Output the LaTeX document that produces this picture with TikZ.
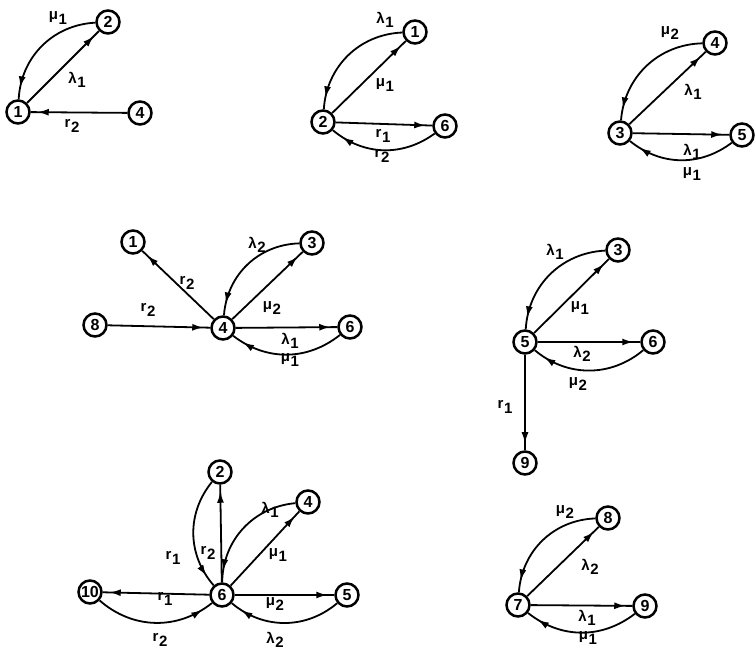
\documentclass[tikz,border=0pt]{standalone}
\usepackage{fontspec}
\setmainfont{Liberation Sans}
\usetikzlibrary{arrows.meta,decorations.markings}
\newcommand\lab[2]{#1\kern0.6pt\raisebox{-0.55ex}{#2}}
\tikzset{
  st/.style={circle,draw,line width=2.5pt,minimum size=23pt,inner sep=0pt,font=\fontsize{16}{16}\selectfont\bfseries},
  lb/.style={inner sep=0pt,font=\fontsize{15}{15}\selectfont\bfseries},
  arr/.style={postaction={decorate},decoration={markings,mark=at position #1 with {\arrow{Latex[length=11pt,width=7pt]}}}},
  ed/.style={line width=1.8pt,arr=-7pt},
  cv/.style={line width=1.8pt,arr=-12pt},
}
\begin{document}
\begin{tikzpicture}[x=1pt,y=1pt]
\fill[white] (0,0) rectangle (756,-652);
\useasboundingbox (0,0) rectangle (756,-652);
% Graph 1
\node[st] (a1) at (18,-112) {1};
\node[st] (a2) at (108,-22) {2};
\node[st] (a4) at (140,-113) {4};
\node[lb] (la1) at (58,-18) {\lab{μ}{1}};
\node[lb] (la2) at (77,-80) {\lab{λ}{1}};
\node[lb] (la3) at (72,-126) {\lab{r}{2}};
\draw[ed] (a1) -- (a2);
\draw[cv] (a2) to[bend right=42] (a1);
\draw[ed] (a4) -- (a1);
% Graph 2
\node[st] (b1) at (415,-32) {1};
\node[st] (b2) at (323,-122) {2};
\node[st] (b6) at (445,-126) {6};
\node[lb] (lb1) at (385,-20) {\lab{λ}{1}};
\node[lb] (lb2) at (385,-85) {\lab{μ}{1}};
\node[lb] (lb3) at (383,-136) {\lab{r}{1}};
\node[lb] (lb4) at (382,-156) {\lab{r}{2}};
\draw[cv] (b1) to[bend right=42] (b2);
\draw[ed] (b2) -- (b1);
\draw[ed] (b2) -- (b6);
\draw[cv] (b6) to[bend left=38] (b2);
% Graph 3
\node[st] (c4) at (715,-43) {4};
\node[st] (c3) at (620,-133) {3};
\node[st] (c5) at (742,-135) {5};
\node[lb] (lc1) at (670,-33) {\lab{μ}{2}};
\node[lb] (lc2) at (693,-92) {\lab{λ}{1}};
\node[lb] (lc3) at (692,-152) {\lab{λ}{1}};
\node[lb] (lc4) at (692,-174) {\lab{μ}{1}};
\draw[cv] (c4) to[bend right=42] (c3);
\draw[ed] (c3) -- (c4);
\draw[ed] (c3) -- (c5);
\draw[cv] (c5) to[bend left=38] (c3);
% Graph 4
\node[st] (d1) at (133,-242) {1};
\node[st] (d3) at (312,-243) {3};
\node[st] (d8) at (95,-325) {8};
\node[st] (d4) at (223,-328) {4};
\node[st] (d6) at (350,-327) {6};
\node[lb] (ld1) at (257,-245) {\lab{λ}{2}};
\node[lb] (ld2) at (187,-283) {\lab{r}{2}};
\node[lb] (ld3) at (148,-310) {\lab{r}{2}};
\node[lb] (ld4) at (272,-308) {\lab{μ}{2}};
\node[lb] (ld5) at (290,-341) {\lab{λ}{1}};
\node[lb] (ld6) at (290,-360) {\lab{μ}{1}};
\draw[ed] (d4) -- (d1);
\draw[ed] (d8) -- (d4);
\draw[cv] (d3) to[bend right=42] (d4);
\draw[ed] (d4) -- (d3);
\draw[ed] (d4) -- (d6);
\draw[cv] (d6) to[bend left=38] (d4);
% Graph 5
\node[st] (e3) at (618,-250) {3};
\node[st] (e5) at (525,-342) {5};
\node[st] (e6) at (653,-342) {6};
\node[st] (e9) at (525,-463) {9};
\node[lb] (le1) at (555,-252) {\lab{λ}{1}};
\node[lb] (le2) at (580,-308) {\lab{μ}{1}};
\node[lb] (le3) at (582,-354) {\lab{λ}{2}};
\node[lb] (le4) at (578,-384) {\lab{μ}{2}};
\node[lb] (le5) at (505,-407) {\lab{r}{1}};
\draw[cv] (e3) to[bend right=42] (e5);
\draw[ed] (e5) -- (e3);
\draw[ed] (e5) -- (e6);
\draw[cv] (e6) to[bend left=40] (e5);
\draw[ed] (e5) -- (e9);
% Graph 6
\node[st] (f2) at (220,-472) {2};
\node[st] (f4) at (308,-502) {4};
\node[st] (f10) at (90,-592) {10};
\node[st] (f6) at (222,-595) {6};
\node[st] (f5) at (347,-595) {5};
\node[lb] (lf1) at (173,-558) {\lab{r}{1}};
\node[lb] (lf2) at (208,-553) {\lab{r}{2}};
\node[lb] (lf3) at (270,-510) {\lab{λ}{1}};
\node[lb] (lf4) at (278,-555) {\lab{μ}{1}};
\node[lb] (lf5) at (165,-599) {\lab{r}{1}};
\node[lb] (lf6) at (160,-640) {\lab{r}{2}};
\node[lb] (lf7) at (275,-604) {\lab{μ}{2}};
\node[lb] (lf8) at (275,-640) {\lab{λ}{2}};
\draw[cv] (f2) to[bend right=40] (f6);
\draw[ed] (f6) -- (f2);
\draw[cv] (f4) to[bend right=42] (f6);
\draw[ed] (f6) -- (f4);
\draw[ed] (f6) -- (f10);
\draw[cv] (f10) to[bend right=40] (f6);
\draw[ed] (f6) -- (f5);
\draw[cv] (f5) to[bend left=40] (f6);
% Graph 7
\node[st] (g8) at (608,-518) {8};
\node[st] (g7) at (518,-605) {7};
\node[st] (g9) at (645,-606) {9};
\node[lb] (lg1) at (565,-512) {\lab{μ}{2}};
\node[lb] (lg2) at (590,-567) {\lab{λ}{2}};
\node[lb] (lg3) at (587,-618) {\lab{λ}{1}};
\node[lb] (lg4) at (588,-638) {\lab{μ}{1}};
\draw[cv] (g8) to[bend right=42] (g7);
\draw[ed] (g7) -- (g8);
\draw[ed] (g7) -- (g9);
\draw[cv] (g9) to[bend left=38] (g7);
\end{tikzpicture}
\end{document}
